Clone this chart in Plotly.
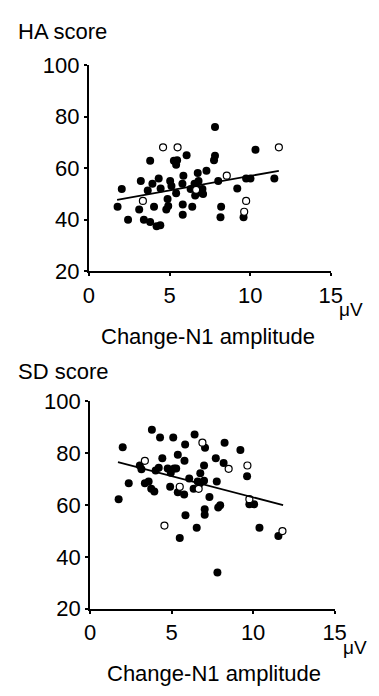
import plotly.graph_objects as go

# ---- HA score panel data ----
ha_x_filled = [1.78, 2.04, 2.43, 3.12, 3.22, 3.41, 3.65, 3.80, 3.80, 3.94, 4.04, 4.20, 4.33,
               4.43, 4.45, 4.80, 4.88, 4.92, 5.04, 5.12, 5.27, 5.41, 5.41, 5.47, 5.80, 5.82,
               5.82, 5.86, 6.06, 6.31, 6.41, 6.55, 6.59, 6.69, 6.75, 6.80, 6.88, 7.04, 7.08,
               7.29, 7.76, 7.82, 7.82, 8.02, 8.20, 8.16, 9.20, 9.59, 9.75, 10.02, 10.33, 11.50]
ha_y_filled = [45.0, 51.9, 40.0, 44.0, 55.0, 40.0, 51.3, 62.9, 39.1, 54.0, 45.0, 37.5, 56.0,
               37.9, 52.1, 44.0, 48.0, 45.3, 55.0, 53.1, 62.9, 61.3, 50.3, 63.1, 54.0, 45.9,
               41.9, 57.1, 65.0, 51.9, 45.0, 54.0, 49.4, 52.1, 58.1, 55.0, 50.6, 51.9, 50.0,
               59.0, 63.1, 64.8, 76.0, 55.0, 45.0, 41.0, 52.1, 41.0, 56.0, 56.0, 67.1, 56.0]
ha_x_open = [3.35, 4.60, 5.50, 6.65, 8.55, 9.75, 9.63, 11.78]
ha_y_open = [47.3, 68.1, 68.1, 51.6, 57.1, 47.3, 43.1, 68.1]
ha_fit_x = [1.75, 11.78]
ha_fit_y = [47.7, 59.0]

# ---- SD score panel data ----
sd_x_filled = [1.75, 2.00, 2.37, 3.05, 3.15, 3.36, 3.59, 3.75, 3.79, 3.94, 4.02, 4.21, 4.29,
               4.43, 4.76, 4.91, 4.95, 5.10, 5.15, 5.28, 5.38, 5.38, 5.50, 5.77, 5.79, 5.83,
               5.85, 6.08, 6.35, 6.41, 6.54, 6.60, 6.76, 6.74, 6.99, 6.99, 7.03, 7.03, 7.05,
               7.32, 7.71, 7.77, 7.81, 7.86, 7.98, 8.19, 8.25, 9.22, 9.63, 9.77, 10.06, 10.39,
               11.55]
sd_y_filled = [62.3, 82.3, 68.4, 75.3, 73.8, 68.4, 69.1, 66.3, 89.1, 65.3, 73.4, 74.4, 86.1,
               78.1, 74.1, 67.1, 72.5, 86.1, 74.1, 74.1, 79.4, 65.0, 47.3, 64.1, 77.1, 83.4,
               56.1, 70.3, 66.3, 87.3, 51.3, 69.1, 72.3, 68.4, 69.4, 75.3, 58.4, 56.3, 82.1,
               63.1, 78.1, 69.1, 34.0, 59.1, 60.0, 76.3, 84.1, 81.3, 71.1, 60.3, 60.3, 51.3,
               48.1]
sd_x_open = [3.36, 4.56, 5.50, 6.66, 6.89, 8.50, 9.65, 9.77, 11.80]
sd_y_open = [77.1, 52.1, 67.1, 66.3, 84.1, 74.0, 75.3, 62.3, 50.0]
sd_fit_x = [1.71, 11.84]
sd_fit_y = [76.6, 60.0]

x_ticks = [0, 5, 10, 15]
y_ticks = [20, 40, 60, 80, 100]

FONT = "Arial, Liberation Sans, sans-serif"
W, H = 379, 696

fig = go.Figure()

def add_panel(xf, yf, xo, yo, fx, fy, xa, ya):
    fig.add_trace(go.Scatter(x=xf, y=yf, mode="markers", xaxis=xa, yaxis=ya,
                             marker=dict(size=8, color="black"), showlegend=False))
    fig.add_trace(go.Scatter(x=xo, y=yo, mode="markers", xaxis=xa, yaxis=ya,
                             marker=dict(size=7, color="white", line=dict(color="black", width=1.2)),
                             showlegend=False))
    fig.add_trace(go.Scatter(x=fx, y=fy, mode="lines", xaxis=xa, yaxis=ya,
                             line=dict(color="black", width=1.8), showlegend=False))

add_panel(ha_x_filled, ha_y_filled, ha_x_open, ha_y_open, ha_fit_x, ha_fit_y, "x", "y")
add_panel(sd_x_filled, sd_y_filled, sd_x_open, sd_y_open, sd_fit_x, sd_fit_y, "x2", "y2")

axis_common = dict(showgrid=False, zeroline=False, showline=True, linecolor="black",
                   linewidth=2, ticks="outside", ticklen=3, tickwidth=1.5, tickcolor="black",
                   tickfont=dict(family=FONT, size=22, color="black"))

fig.update_layout(
    width=W, height=H,
    margin=dict(l=0, r=0, t=0, b=0),
    paper_bgcolor="white", plot_bgcolor="white",
    xaxis=dict(domain=[87 / W, 341 / W], range=[0, 15], tickvals=x_ticks,
               anchor="y", **axis_common),
    yaxis=dict(domain=[1 - 269 / H, 1 - 55 / H], range=[20, 100], tickvals=y_ticks,
               anchor="x", **axis_common),
    xaxis2=dict(domain=[88.3 / W, 345 / W], range=[0, 15], tickvals=x_ticks,
                anchor="y2", **axis_common),
    yaxis2=dict(domain=[1 - 619 / H, 1 - 404 / H], range=[20, 100], tickvals=y_ticks,
                anchor="x2", **axis_common),
)

def txt(text, px, py, size=22, xanchor="left"):
    fig.add_annotation(text=text, x=px / W, y=1 - py / H, xref="paper", yref="paper",
                       xanchor=xanchor, yanchor="middle", showarrow=False,
                       font=dict(family=FONT, size=size, color="black"))

txt("HA score", 11, 20)
txt("SD score", 11, 373)
txt("Change-N1 amplitude", 212.5, 337, xanchor="center")
txt("Change-N1 amplitude", 218.5, 686, xanchor="center")
txt("μV", 348, 309, size=19)
txt("μV", 352, 659, size=19)

fig.write_html("out.html")
